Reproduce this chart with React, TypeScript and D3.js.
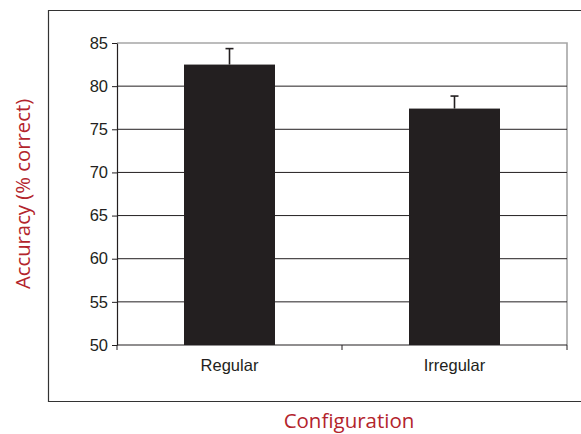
import React, { useEffect, useRef } from "react";
import * as d3 from "d3";

const categories = ["Regular", "Irregular"];
const accuracy = [82.5, 77.4];
const errorUpper = [84.35, 78.85];
const yTicks = [50, 55, 60, 65, 70, 75, 80, 85];

const ink = "#231f20";
const red = "#b3242c";

const App = () => {
  const ref = useRef<SVGSVGElement | null>(null);

  useEffect(() => {
    const svg = d3.select(ref.current);
    svg.selectAll("*").remove();

    const left = 117;
    const right = 567;
    const top = 43;
    const bottom = 345;

    const x = d3.scaleBand().domain(categories).range([left, right]);
    const y = d3.scaleLinear().domain([50, 85]).range([bottom, top]);
    const barW = 91;

    // outer frame (right side falls past the edge)
    svg
      .append("path")
      .attr("d", `M600,10.5 H48.5 V401.5 H600`)
      .attr("fill", "none")
      .attr("stroke", "#333")
      .attr("stroke-width", 1.2);

    // plot frame top + right in grey
    svg
      .append("path")
      .attr("d", `M${left},${top} H${right} V${bottom}`)
      .attr("fill", "none")
      .attr("stroke", "#a6a6a6")
      .attr("stroke-width", 1.6);

    // gridlines
    svg
      .append("g")
      .selectAll("line")
      .data(yTicks.filter((t) => t !== 50 && t !== 85))
      .enter()
      .append("line")
      .attr("x1", left)
      .attr("x2", right)
      .attr("y1", (d) => y(d))
      .attr("y2", (d) => y(d))
      .attr("stroke", ink)
      .attr("stroke-width", 1);

    // bars
    svg
      .append("g")
      .selectAll("rect")
      .data(accuracy)
      .enter()
      .append("rect")
      .attr("x", (d, i) => x(categories[i])! + x.bandwidth() / 2 - barW / 2)
      .attr("y", (d) => y(d))
      .attr("width", barW)
      .attr("height", (d) => y(50) - y(d))
      .attr("fill", ink);

    // error bars (upper only)
    const err = svg.append("g").attr("stroke", ink).attr("stroke-width", 1.6);
    errorUpper.forEach((e, i) => {
      const cx = x(categories[i])! + x.bandwidth() / 2;
      err
        .append("line")
        .attr("x1", cx)
        .attr("x2", cx)
        .attr("y1", y(accuracy[i]))
        .attr("y2", y(e));
      err
        .append("line")
        .attr("x1", cx - 4)
        .attr("x2", cx + 4)
        .attr("y1", y(e))
        .attr("y2", y(e));
    });

    // y axis
    const yAxis = svg
      .append("g")
      .attr("transform", `translate(${left},0)`)
      .call(d3.axisLeft(y).tickValues(yTicks).tickSize(5).tickSizeOuter(0));
    yAxis.select(".domain").attr("stroke", ink).attr("stroke-width", 1.2);
    yAxis.selectAll(".tick line").attr("stroke", ink).attr("stroke-width", 1);
    yAxis
      .selectAll(".tick text")
      .attr("x", -9)
      .attr("fill", ink)
      .style("font-family", "'Liberation Sans', Arial, sans-serif")
      .style("font-size", "16.5px");

    // x axis
    const boundaries = [left, (left + right) / 2, right];
    const xAxis = svg.append("g");
    xAxis
      .append("line")
      .attr("x1", left)
      .attr("x2", right)
      .attr("y1", bottom)
      .attr("y2", bottom)
      .attr("stroke", ink)
      .attr("stroke-width", 1.2);
    xAxis
      .selectAll(".xtick")
      .data(boundaries)
      .enter()
      .append("line")
      .attr("class", "xtick")
      .attr("x1", (d) => d)
      .attr("x2", (d) => d)
      .attr("y1", bottom)
      .attr("y2", bottom + 5)
      .attr("stroke", ink)
      .attr("stroke-width", 1);
    xAxis
      .selectAll(".xlabel")
      .data(categories)
      .enter()
      .append("text")
      .attr("class", "xlabel")
      .attr("x", (d) => x(d)! + x.bandwidth() / 2)
      .attr("y", 371)
      .attr("text-anchor", "middle")
      .attr("fill", ink)
      .style("font-family", "'Liberation Sans', Arial, sans-serif")
      .style("font-size", "16.5px")
      .text((d) => d);

    // axis titles
    svg
      .append("text")
      .attr("transform", `translate(30,194) rotate(-90)`)
      .attr("text-anchor", "middle")
      .attr("fill", red)
      .style("font-family", "'Open Sans', sans-serif")
      .style("font-size", "20.3px")
      .text("Accuracy (% correct)");

    svg
      .append("text")
      .attr("x", 349)
      .attr("y", 428)
      .attr("text-anchor", "middle")
      .attr("fill", red)
      .style("font-family", "'Open Sans', sans-serif")
      .style("font-size", "20.5px")
      .text("Configuration");
  }, []);

  return (
    <svg
      ref={ref}
      width={581}
      height={434}
      style={{ position: "absolute", left: 0, top: 0, background: "#fff" }}
    />
  );
};

export default App;
